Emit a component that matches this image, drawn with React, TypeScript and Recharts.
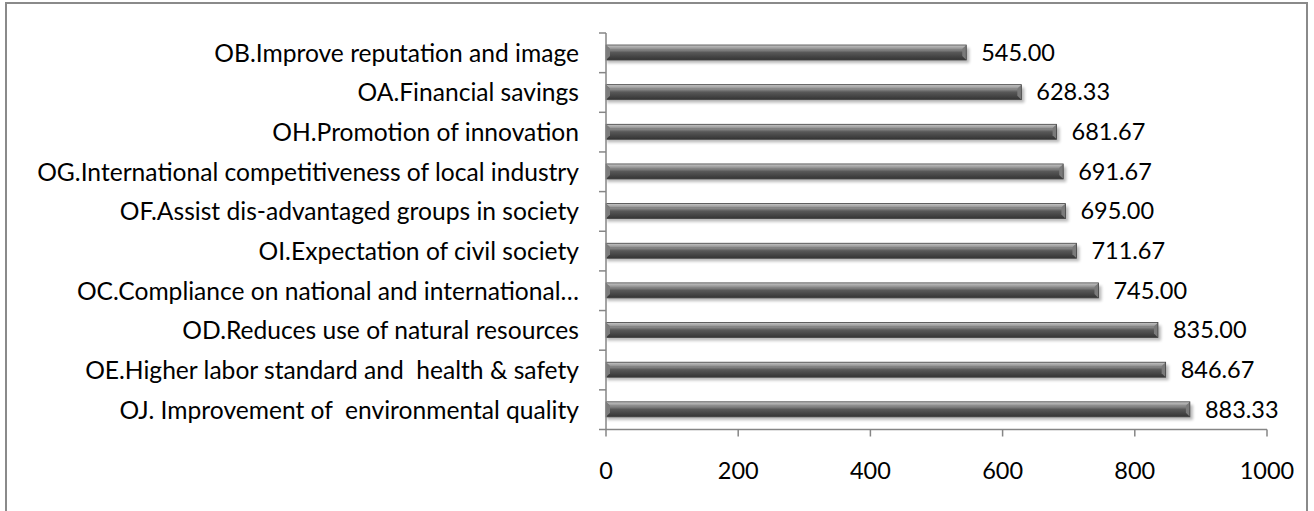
import React from "react";
import { BarChart, Bar, XAxis, YAxis, LabelList } from "recharts";

const categories = [
  "OB.Improve reputation and image",
  "OA.Financial savings",
  "OH.Promotion of innovation",
  "OG.International competitiveness of local industry",
  "OF.Assist dis-advantaged groups in society",
  "OI.Expectation of civil society",
  "OC.Compliance on national and international…",
  "OD.Reduces use of natural resources",
  "OE.Higher labor standard and  health & safety",
  "OJ. Improvement of  environmental quality",
];
const values = [545.0, 628.33, 681.67, 691.67, 695.0, 711.67, 745.0, 835.0, 846.67, 883.33];
const xTicks = [0, 200, 400, 600, 800, 1000];

const data = categories.map((c, i) => ({ name: c, value: values[i] }));

const W = 1314;
const H = 511;
const TOP = 33;
const PLOT_BOTTOM = 429.5;
const BAND_HALF = (PLOT_BOTTOM - TOP) / categories.length / 2;
const FONT = "Lato, 'Open Sans', sans-serif";
const FS_CAT = 24.6;
const FS_NUM = 23.5;

const YTick = (props: any) => {
  const { x, y, payload, index } = props;
  return (
    <g>
      <text
        x={x - 27}
        y={y}
        dy="0.36em"
        textAnchor="end"
        fontFamily={FONT}
        fontSize={FS_CAT}
        fill="#000"
        xmlSpace="preserve"
        style={{ whiteSpace: "pre" }}
      >
        {payload.value}
      </text>
      <line x1={x - 7} x2={x} y1={y - BAND_HALF} y2={y - BAND_HALF} stroke="#868686" strokeWidth={1.5} />
      {index === categories.length - 1 ? (
        <line x1={x - 7} x2={x} y1={y + BAND_HALF} y2={y + BAND_HALF} stroke="#868686" strokeWidth={1.5} />
      ) : null}
    </g>
  );
};

const BarShape = (props: any) => {
  const { x, y, width, height } = props;
  if (!width || width <= 0) return null;
  const b = 4;
  return (
    <g>
      <rect x={x + 1} y={y + 3} width={width + 2} height={height} fill="#000" opacity={0.28} filter="url(#barShadow)" />
      <rect x={x} y={y} width={width} height={height} fill="url(#barGrad)" />
      <polygon
        points={`${x + width - b},${y + b} ${x + width},${y} ${x + width},${y + height} ${x + width - b},${y + height - b}`}
        fill="#7a7a7a"
      />
      <polygon
        points={`${x},${y} ${x + width},${y} ${x + width - b},${y + b} ${x + b},${y + b}`}
        fill="url(#topBevel)"
      />
      <polygon
        points={`${x},${y} ${x + b},${y + b} ${x + b},${y + height - b} ${x},${y + height}`}
        fill="#7c7c7c"
      />
      <rect x={x} y={y} width={width} height={height} fill="none" stroke="#444" strokeWidth={0.8} />
    </g>
  );
};

export default function App() {
  return (
    <div style={{ position: "absolute", left: 0, top: 0, width: W, height: H, overflow: "hidden", background: "#fff" }}>
      <div
        style={{
          position: "absolute",
          left: 5,
          top: 2,
          width: 1303,
          height: 540,
          border: "2px solid #8a8a8a",
          boxSizing: "border-box",
        }}
      />
      <div style={{ position: "absolute", left: 0, top: 0 }}>
        <BarChart
          width={W}
          height={H}
          data={data}
          layout="vertical"
          margin={{ top: TOP, right: 47, bottom: 31.5, left: 0 }}
          barSize={15}
        >
          <defs>
            <linearGradient id="barGrad" x1="0" y1="0" x2="0" y2="1">
              <stop offset="0%" stopColor="#a0a0a0" />
              <stop offset="18%" stopColor="#666" />
              <stop offset="32%" stopColor="#878787" />
              <stop offset="50%" stopColor="#585858" />
              <stop offset="100%" stopColor="#343434" />
            </linearGradient>
            <linearGradient id="topBevel" x1="0" y1="0" x2="0" y2="1">
              <stop offset="0%" stopColor="#c8c8c8" />
              <stop offset="100%" stopColor="#909090" />
            </linearGradient>
            <filter id="barShadow" x="-5%" y="-50%" width="110%" height="200%">
              <feGaussianBlur stdDeviation="1.8" />
            </filter>
          </defs>
          <XAxis
            type="number"
            domain={[0, 1000]}
            ticks={xTicks}
            height={50}
            tickSize={7}
            tickMargin={26}
            stroke="#868686"
            tick={{ fill: "#000", fontFamily: FONT, fontSize: FS_NUM }}
            axisLine={{ stroke: "#868686", strokeWidth: 1.5 }}
            tickLine={{ stroke: "#868686", strokeWidth: 1.5 }}
            interval={0}
          />
          <YAxis
            type="category"
            dataKey="name"
            width={606}
            tickSize={0}
            tickMargin={0}
            tickLine={false}
            axisLine={{ stroke: "#868686", strokeWidth: 1.5 }}
            tick={<YTick />}
            interval={0}
          />
          <Bar dataKey="value" isAnimationActive={false} shape={<BarShape />}>
            <LabelList
              dataKey="value"
              position="right"
              offset={15}
              formatter={(v: any) => Number(v).toFixed(2)}
              style={{ fill: "#000", fontFamily: FONT, fontSize: FS_NUM }}
            />
          </Bar>
        </BarChart>
      </div>
    </div>
  );
}
